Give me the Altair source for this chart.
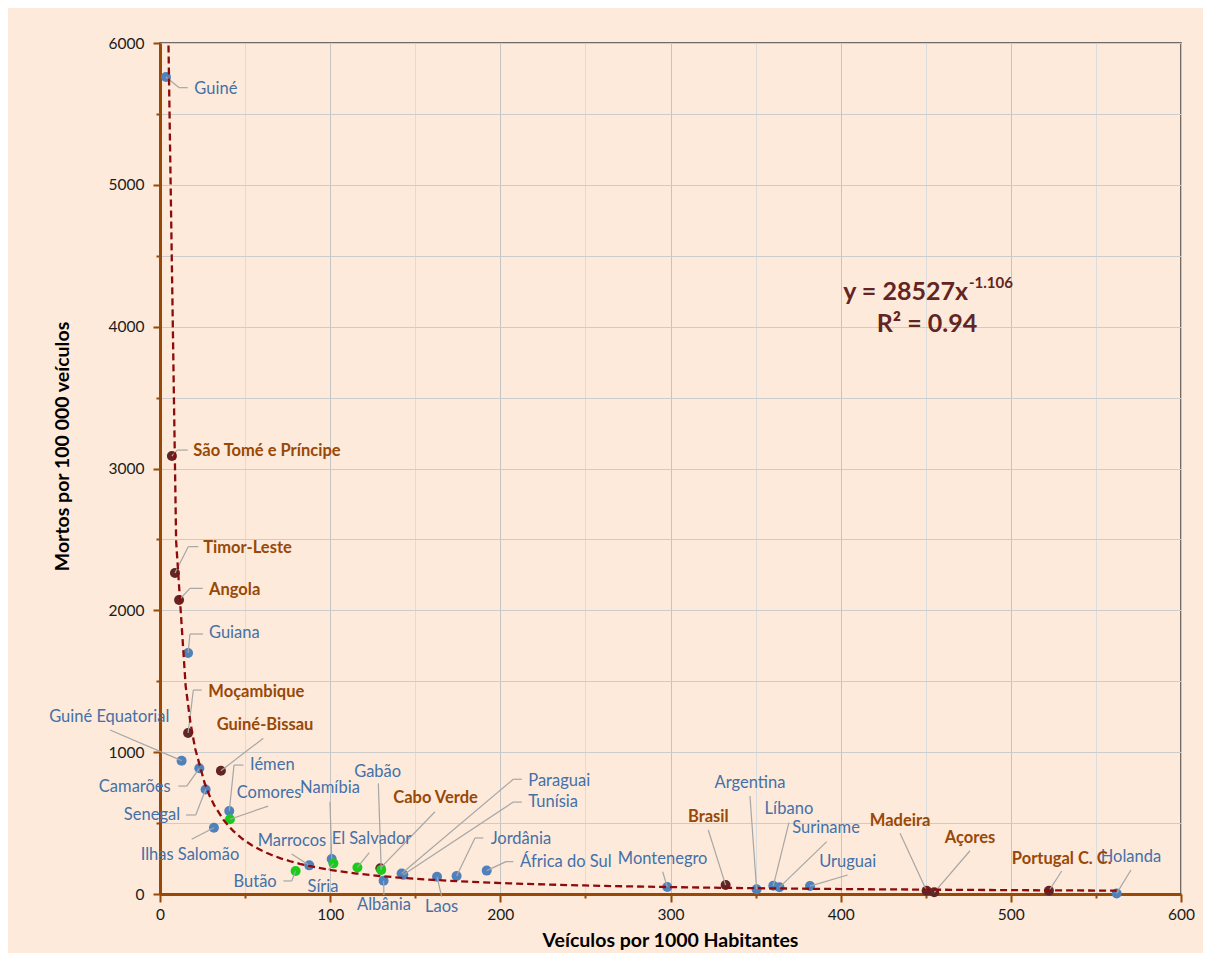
import altair as alt
import pandas as pd

# ---------------- data ----------------
countries = ["Guiné", "Guiana", "Guiné Equatorial", "Camarões", "Senegal", "Iémen",
             "Ilhas Salomão", "Marrocos", "Namíbia", "Albânia", "Paraguai", "Tunísia",
             "Laos", "Jordânia", "África do Sul", "Montenegro", "Argentina", "Líbano",
             "Suriname", "Uruguai", "Holanda",
             "São Tomé e Príncipe", "Timor-Leste", "Angola", "Moçambique", "Guiné-Bissau",
             "Cabo Verde", "Brasil", "Madeira", "Açores", "Portugal C. C.",
             "Comores", "Butão", "Síria", "El Salvador", "Gabão"]
vehicles = [3.5, 16.5, 12.7, 23.1, 26.8, 40.7,
            31.7, 87.7, 100.9, 131.4, 142.0, 143.0,
            162.8, 174.3, 192.0, 298.1, 350.6, 360.4,
            364.0, 382.0, 562.2,
            7.0, 8.8, 11.2, 16.5, 35.8,
            129.5, 332.4, 450.5, 455.0, 522.4,
            41.1, 79.7, 101.9, 116.0, 130.0]
deaths = [5760, 1699, 940, 886, 737, 585,
          467, 202, 247, 94, 145, 135,
          122, 127, 165, 49, 33, 58,
          47, 56, 4,
          3088, 2263, 2073, 1135, 869,
          182, 63, 23, 12, 23,
          527, 162, 216, 187, 170]
groups = ["outros"] * 21 + ["cplp"] * 10 + ["verde"] * 5

# label anchor (data units), alignment
label_x = [20.2, 28.8, -29.8, 6.3, 11.8, 52.9,
           17.6, 57.4, 99.9, 131.6, 216.4, 216.4,
           165.5, 194.3, 211.6, 295.4, 346.7, 369.6,
           391.4, 404.1, 570.6,
           19.6, 25.4, 28.8, 28.4, 33.3,
           137.1, 322.2, 434.9, 476.0, 529.9,
           45.1, 68.6, 95.8, 100.9, 127.9]
label_y = [5676, 1840, 1250, 752, 557, 909,
           275, 374, 745, -78, 799, 646,
           -94, 386, 228, 247, 785, 597,
           463, 228, 259,
           3125, 2442, 2143, 1426, 1191,
           679, 541, 517, 393, 245,
           710, 87, 47, 386, 862]
label_align = ["left", "left", "center", "right", "right", "left",
               "center", "left", "center", "center", "left", "left",
               "center", "left", "left", "center", "center", "center",
               "center", "center", "center",
               "left", "left", "left", "left", "left",
               "left", "center", "center", "center", "center",
               "left", "right", "center", "left", "center"]
# leader line path from the label side towards the point (data units)
leader_path = [
    [(16.3, 5685), (11.3, 5685)],
    [(25.3, 1833), (17.6, 1833)],
    [(-29.4, 1156)],
    [(10.8, 761), (15.7, 761)],
    [(15.3, 557), (21.0, 557)],
    [(49.0, 909), (43.5, 909)],
    [(18.6, 386)],
    [(77.4, 282)],
    [(99.9, 651)],
    [(131.6, -7)],
    [(212.6, 809), (207.6, 809)],
    [(212.6, 648), (207.6, 648)],
    [(165.5, -19)],
    [(190.0, 395), (185.1, 395)],
    [(207.6, 228), (203.3, 228)],
    [(295.4, 157)],
    [(346.7, 691)],
    [(369.6, 503)],
    [(391.8, 369)],
    [(404.1, 134)],
    [(570.6, 169)],
    [(16.3, 3130), (10.2, 3130)],
    [(22.5, 2449), (16.6, 2449)],
    [(25.1, 2155), (17.6, 2155)],
    [(24.5, 1438), (19.6, 1438)],
    [(60.7, 1098)],
    [(161.6, 580)],
    [(322.2, 451)],
    [(434.9, 428)],
    [(476.0, 305)],
    [(529.9, 162)],
    [(63.6, 620)],
    [(72.5, 92), (77.4, 92)],
    [(98.9, 169)],
    [(123.0, 291)],
    [(128.3, 780)],
]

eq_text = ["y = 28527x", "-1.106", "R² = 0.94"]
eq_x = [474.8, 475.4, 450.7]
eq_y = [4244, 4305, 4019]

# ---------------- styling ----------------
PEACH = "#FDEADA"
BLUE = "#4F81BD"
DARK = "#632523"
GREEN = "#19CC19"
LBL_BLUE = "#4470A8"
LBL_BROWN = "#984807"
AXIS_BROWN = "#984807"
FONT = "Lato"

df = pd.DataFrame(dict(country=countries, vehicles=vehicles, deaths=deaths, group=groups))
df["o"] = df["group"].map({"outros": 0, "cplp": 1, "verde": 2})
df = df.sort_values("o", kind="stable")

lab = pd.DataFrame(dict(country=countries, lx=label_x, ly=label_y, align=label_align,
                        kind=["cplp" if g == "cplp" else "other" for g in groups]))

segs = []
for c, vx, vy, path in zip(countries, vehicles, deaths, leader_path):
    pts = list(path) + [(vx, vy)]
    for (a, b), (c2, d) in zip(pts[:-1], pts[1:]):
        segs.append(dict(x1=a, y1=b, x2=c2, y2=d))
seg_df = pd.DataFrame(segs)

xscale = alt.Scale(domain=[0, 600], nice=False, zero=False)
yscale = alt.Scale(domain=[0, 6000], nice=False, zero=False)

x_axis = alt.Axis(
    values=list(range(0, 601, 50)),
    format="d",
    labelExpr="datum.value % 100 == 0 ? datum.label : ''",
    labelFlush=False,
    tickSize={"condition": {"test": "datum.value % 100 == 0", "value": 8}, "value": 4},
    gridColor={"condition": {"test": "datum.value % 100 == 0", "value": "#C4C4C4"}, "value": "#DCDCDC"},
    labelPadding=5,
    titleX=510, titleY=46, titleAlign="center", titleBaseline="middle",
)
y_axis = alt.Axis(
    values=list(range(0, 6001, 500)),
    format="d",
    labelExpr="datum.value % 1000 == 0 ? datum.label : ''",
    labelFlush=False,
    tickSize={"condition": {"test": "datum.value % 1000 == 0", "value": 7}, "value": 4},
    gridColor="#CCCCCC",
    labelPadding=9,
    titleX=-98, titleY=403, titleAlign="center", titleBaseline="middle", titleAngle=-90,
)

XT = "Veículos por 1000 Habitantes"
YT = "Mortos por 100 000 veículos"


def X(f):
    return alt.X(f, type="quantitative", scale=xscale, axis=x_axis, title=XT)


def Y(f):
    return alt.Y(f, type="quantitative", scale=yscale, axis=y_axis, title=YT)


points = alt.Chart(df).mark_circle(size=100, opacity=1).encode(
    x=X("vehicles"), y=Y("deaths"),
    color=alt.Color("group:N", scale=alt.Scale(domain=["outros", "cplp", "verde"],
                                               range=[BLUE, DARK, GREEN]), legend=None),
    order=alt.Order("o:Q"),
)

leaders = alt.Chart(seg_df).mark_rule(color="#A6A6A6", strokeWidth=1.2).encode(
    x=X("x1"), y=Y("y1"), x2="x2:Q", y2="y2:Q"
)

trend = alt.Chart(df).transform_regression(
    "vehicles", "deaths", method="pow", extent=[3.9, 562.2]
).mark_line(color="#8E0B0B", strokeWidth=2.3, strokeDash=[7, 4], clip=True).encode(
    x=X("vehicles"), y=Y("deaths")
)

label_layers = []
for al in ["left", "center", "right"]:
    for kind, col, wt in [("other", LBL_BLUE, "normal"), ("cplp", LBL_BROWN, "bold")]:
        label_layers.append(
            alt.Chart(lab).transform_filter(
                f"datum.align == '{al}' && datum.kind == '{kind}'"
            ).mark_text(align=al, baseline="middle", font=FONT, fontSize=16.5,
                        fontWeight=wt, color=col).encode(
                x=X("lx"), y=Y("ly"), text="country:N"
            )
        )

eq_df = pd.DataFrame(dict(t=eq_text, x=eq_x, y=eq_y))
eq_main = alt.Chart(eq_df.iloc[[0]]).mark_text(
    align="right", baseline="middle", font=FONT, fontSize=25, fontWeight="bold", color=DARK
).encode(x=X("x"), y=Y("y"), text="t:N")
eq_sup = alt.Chart(eq_df.iloc[[1]]).mark_text(
    align="left", baseline="middle", font=FONT, fontSize=15, fontWeight="bold", color=DARK
).encode(x=X("x"), y=Y("y"), text="t:N")
eq_r2 = alt.Chart(eq_df.iloc[[2]]).mark_text(
    align="center", baseline="middle", font=FONT, fontSize=25, fontWeight="bold", color=DARK
).encode(x=X("x"), y=Y("y"), text="t:N")

chart = alt.layer(points, leaders, trend, *label_layers, eq_main, eq_sup, eq_r2).properties(
    width=1021, height=851,
    autosize=alt.AutoSizeParams(type="none"),
    padding={"left": 152, "top": 35, "right": 22, "bottom": 59},
    background=PEACH,
).configure_view(
    fill=PEACH, stroke="#404040", strokeWidth=1.5
).configure_axis(
    domainColor=AXIS_BROWN, domainWidth=3, tickColor=AXIS_BROWN, tickWidth=2,
    labelFont=FONT, labelFontSize=15.5, labelColor="#1A1A1A",
    titleFont=FONT, titleFontSize=19.5, titleFontWeight="bold", titleColor="black",
)

chart.save("out.html", embed_options={"renderer": "svg", "actions": False})
